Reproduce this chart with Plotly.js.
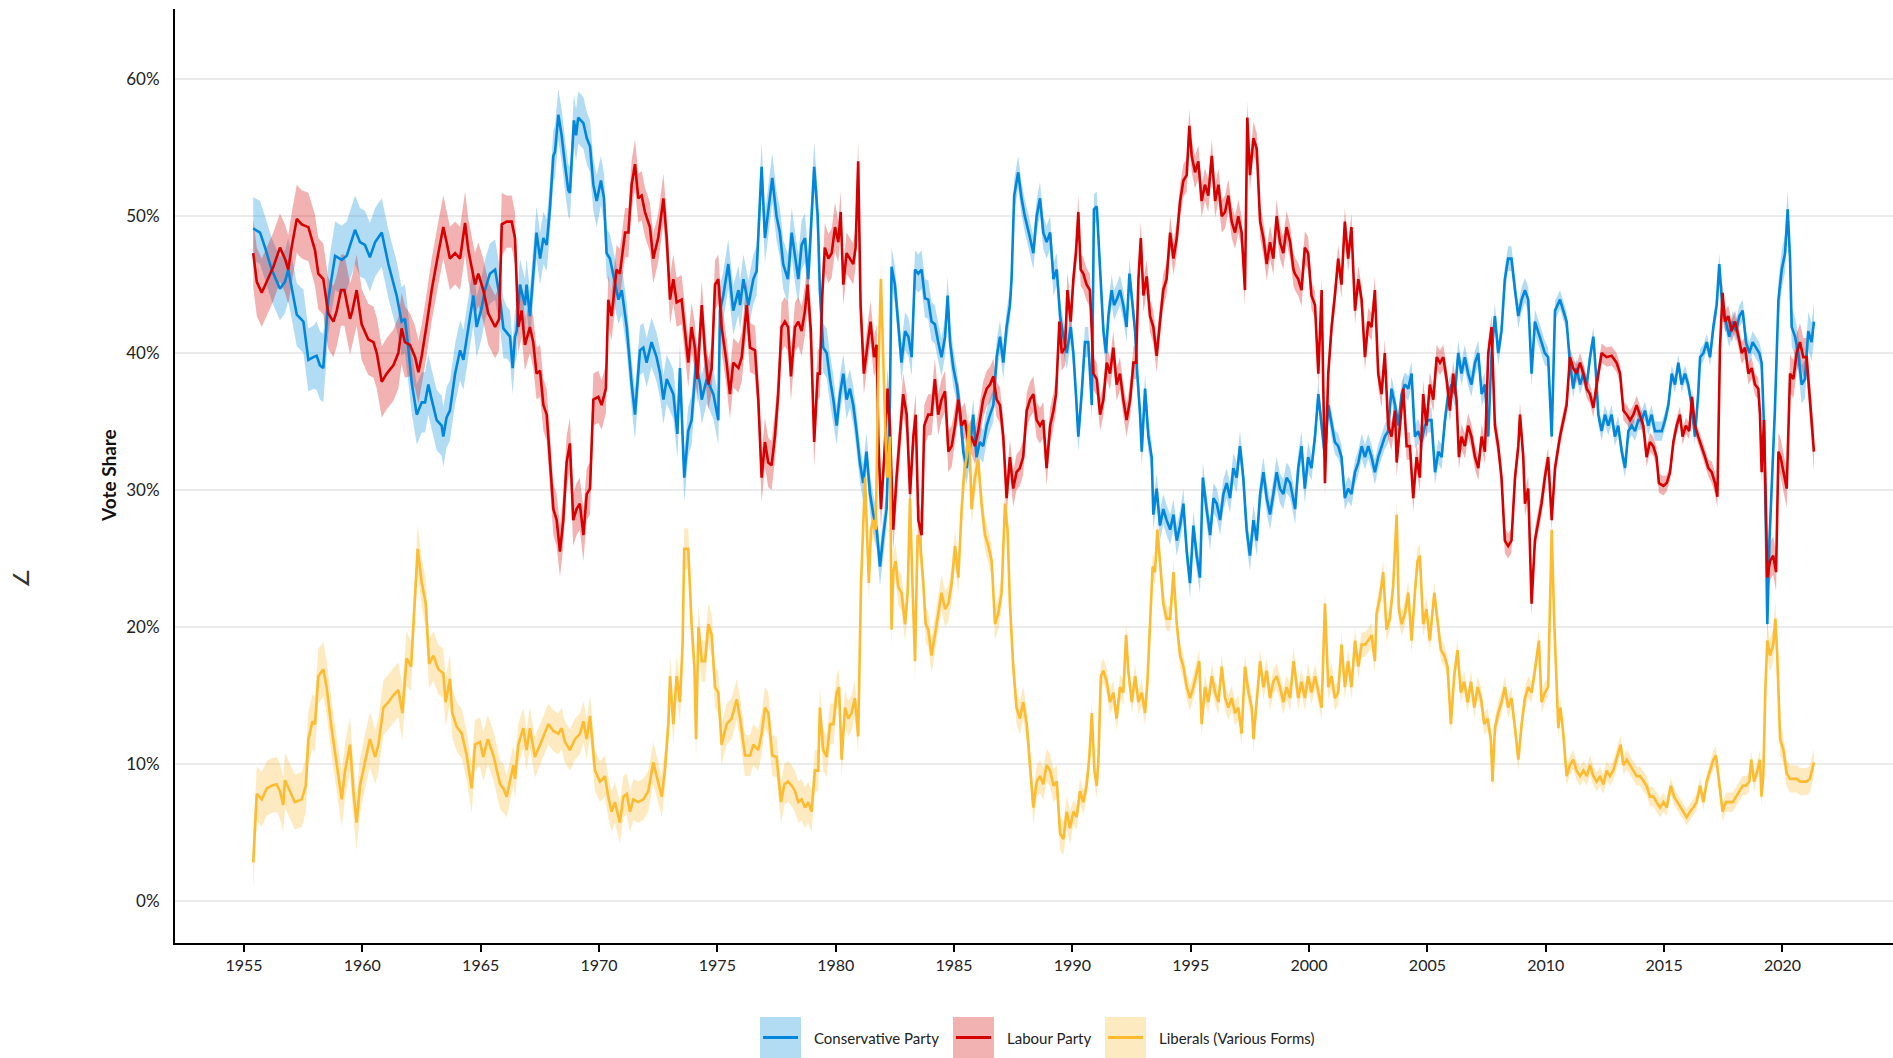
<!DOCTYPE html>
<html>
<head>
<meta charset="utf-8">
<script src="https://cdn.plot.ly/plotly-3.0.1.min.js"></script>
<style>html,body{margin:0;padding:0;background:#fff;overflow:hidden}#chart{width:1893px;height:1058px}</style>
</head>
<body>
<div id="chart"></div>
<script>
// ---------------- DATA ----------------
const partyNames = ['Conservative Party', 'Labour Party', 'Liberals (Various Forms)'];

const conYears = [
1955.39,1955.68,1955.89,1956.17,1956.52,1956.73,1956.87,1957.08,1957.23,1957.51,
1957.72,1957.93,1958.07,1958.21,1958.35,1958.56,1958.85,1959.13,1959.34,1959.69,
1959.90,1960.11,1960.32,1960.54,1960.82,1961.10,1961.45,1961.66,1961.80,1961.94,
1962.08,1962.30,1962.51,1962.65,1962.79,1962.93,1963.14,1963.35,1963.42,1963.56,
1963.70,1963.92,1964.13,1964.27,1964.48,1964.69,1964.83,1965.04,1965.18,1965.39,
1965.61,
1965.82,1965.96,1966.10,1966.24,1966.35,1966.45,1966.52,1966.66,1966.87,1966.94,
1967.08,1967.22,1967.36,1967.51,1967.65,1967.79,1967.93,1968.07,1968.14,1968.28,
1968.42,1968.56,1968.70,1968.77,1968.94,1969.03,1969.12,1969.34,1969.48,1969.62,
1969.76,1969.90,1970.08,1970.21,1970.32,1970.46,1970.82,1970.96,1971.17,1971.38,
1971.52,1971.73,1971.87,1972.01,1972.22,1972.43,1972.58,1972.72,1972.86,1973.14,
1973.31,1973.42,1973.60,1973.77,1973.91,1974.10,1974.27,1974.34,1974.55,1974.83,
1975.04,1975.11,1975.25,1975.46,1975.67,1975.89,1975.96,1976.10,1976.31,1976.52,
1976.66,1976.80,1976.87,1977.01,
1977.15,1977.32,1977.50,1977.64,1977.78,1977.98,1978.14,1978.28,1978.42,1978.56,
1978.70,1978.84,1978.98,1979.09,1979.24,1979.33,1979.47,1979.62,1979.76,1979.90,
1980.04,1980.18,1980.32,1980.46,1980.60,1980.74,1980.88,1981.02,1981.16,1981.30,
1981.45,1981.59,1981.73,1981.87,1982.01,1982.15,1982.29,1982.36,1982.50,1982.64,
1982.78,1982.93,1983.07,1983.21,1983.35,1983.49,1983.63,1983.77,1983.91,1984.05,
1984.19,1984.33,1984.47,1984.62,1984.73,1984.83,1984.97,1985.11,1985.25,1985.39,
1985.53,1985.67,1985.81,1985.95,1986.09,1986.23,1986.38,1986.52,1986.66,1986.80,
1986.94,1987.08,1987.22,1987.36,1987.43,1987.54,1987.71,1987.85,1987.99,1988.21,
1988.35,1988.49,1988.63,1988.77,1988.91,1989.06,1989.20,1989.34,1989.48,1989.62,
1989.76,1989.93,1990.04,1990.15,1990.25,1990.39,1990.53,1990.67,1990.82,1990.91,
1991.03,1991.10,1991.20,1991.31,1991.42,1991.52,1991.66,1991.76,1991.87,1992.01,
1992.15,1992.29,1992.41,1992.51,1992.65,1992.74,1992.86,1992.93,1993.07,1993.21,
1993.35,1993.42,1993.56,1993.70,1993.84,1993.98,1994.13,1994.27,1994.41,1994.55,
1994.69,1994.83,1994.97,1995.11,1995.25,1995.39,1995.51,1995.67,1995.82,1995.96,
1996.10,1996.24,1996.38,1996.52,1996.66,1996.80,1996.94,1997.08,1997.22,1997.36,
1997.50,1997.65,1997.79,1997.93,1998.07,1998.21,1998.35,1998.49,1998.63,1998.77,
1998.91,1999.05,1999.20,1999.41,
1999.54,1999.68,1999.82,1999.96,2000.10,2000.25,2000.39,2000.53,2000.67,2000.81,
2000.95,2001.09,2001.23,2001.37,2001.51,2001.65,2001.79,2001.94,2002.08,2002.22,
2002.36,2002.50,2002.64,2002.78,2002.92,2003.06,2003.20,2003.34,2003.48,2003.63,
2003.77,2003.91,2004.05,2004.19,2004.33,2004.47,2004.61,2004.75,2004.89,2005.03,
2005.17,2005.32,2005.46,2005.60,2005.74,2005.88,2006.02,2006.16,2006.30,2006.44,
2006.58,2006.72,2006.86,2007.01,2007.15,2007.29,2007.43,2007.57,2007.71,2007.85,
2007.99,2008.13,2008.27,2008.41,2008.55,2008.70,2008.84,2008.98,2009.12,2009.26,
2009.40,2009.54,2009.68,2009.82,2009.96,2010.10,2010.25,2010.39,2010.60,
2010.74,2010.88,2011.02,2011.16,2011.30,2011.45,2011.59,2011.73,2011.87,2012.01,
2012.12,2012.22,2012.36,2012.50,2012.64,2012.78,2012.92,2013.06,2013.21,2013.35,
2013.49,2013.63,2013.77,2013.91,2014.05,2014.19,2014.33,2014.47,2014.61,2014.75,
2014.90,2015.04,2015.18,2015.32,2015.46,2015.60,2015.74,2015.88,2016.02,2016.16,
2016.30,2016.44,2016.52,2016.66,2016.80,2016.94,2017.08,2017.22,2017.33,2017.47,
2017.61,2017.75,2017.90,2018.04,2018.18,2018.32,2018.46,2018.60,2018.74,2018.88,
2019.02,2019.12,2019.22,2019.30,2019.36,2019.45,2019.54,2019.68,2019.83,2019.97,
2020.11,2020.22,2020.32,2020.39,2020.53,2020.67,2020.81,2020.95,2021.09,2021.23,
2021.33];
const conShare = [
49.1,48.8,47.7,46.1,44.7,45.2,46.1,44.2,42.8,42.3,
39.5,39.7,39.8,39.1,38.9,43.9,47.1,46.8,47.1,49.0,
48.1,47.9,47.0,48.1,48.8,46.5,44.2,42.3,42.5,40.4,
37.9,35.5,36.4,36.4,37.7,36.6,35.1,34.7,33.9,35.3,
35.8,38.5,40.2,39.5,41.9,44.2,41.9,43.3,44.6,45.8,
46.1,
43.9,41.8,41.5,41.2,38.9,41.2,41.6,45.0,43.5,45.0,
42.7,45.8,48.8,46.9,48.4,47.9,50.7,54.4,54.7,57.4,
55.9,53.8,51.9,51.7,57.0,55.9,57.2,56.8,55.7,55.1,
52.3,51.1,52.6,51.3,47.3,46.9,43.9,44.6,41.9,37.7,
35.5,40.2,40.4,39.3,40.8,39.7,38.5,36.6,38.1,37.0,
34.1,38.9,30.9,34.3,35.1,39.3,37.7,36.6,38.1,37.0,
35.1,43.1,44.2,46.5,43.1,44.6,43.5,45.4,43.5,45.4,
46.0,51.1,53.6,48.4,
50.3,52.8,50.0,48.8,46.5,45.4,48.8,46.9,45.4,47.9,
48.4,45.4,49.6,53.6,50.0,44.6,40.4,40.0,38.1,36.6,
34.7,37.0,38.5,36.6,37.4,36.2,34.3,32.0,30.5,32.8,
29.7,28.2,27.1,24.4,26.7,28.6,36.6,46.3,45.0,42.3,
39.3,41.6,41.2,39.7,46.1,45.8,46.1,44.0,43.9,42.3,
42.1,40.8,39.7,41.2,44.2,40.8,38.9,37.7,35.8,32.8,
31.6,33.2,35.5,32.4,33.5,33.2,34.7,35.5,36.2,39.7,
41.2,39.3,41.9,43.5,45.4,51.5,53.2,51.3,50.0,48.4,
47.3,50.0,51.3,48.8,48.1,48.8,45.4,46.1,42.7,41.2,
40.0,41.9,40.0,37.0,33.9,37.0,40.8,40.8,36.2,50.5,
50.7,48.4,45.0,41.6,40.0,42.7,44.6,43.5,43.9,44.6,
43.5,41.9,45.8,44.2,41.6,38.5,35.5,32.8,37.4,33.9,
32.4,28.2,30.1,27.4,28.6,27.8,27.1,28.2,26.3,27.4,
29.0,25.5,23.2,27.4,25.2,23.6,30.9,28.6,26.7,29.4,
29.0,27.8,29.7,30.5,29.4,31.6,30.9,33.2,30.9,27.1,
25.2,27.8,26.3,29.7,31.3,29.4,28.2,29.7,31.3,30.1,
29.7,30.9,30.5,28.6,
31.6,33.2,30.1,32.4,31.6,33.9,37.0,34.7,32.4,36.2,
34.7,33.5,33.2,32.4,29.4,30.1,29.7,31.3,32.0,33.2,
32.4,33.2,32.4,31.3,32.4,33.2,33.9,34.3,37.4,36.2,
34.7,37.0,37.7,37.4,38.5,33.9,34.3,33.5,34.7,35.1,
35.1,31.3,32.8,32.4,35.1,37.0,37.7,37.0,40.0,38.5,
39.7,38.5,37.7,39.3,40.0,37.0,37.7,33.9,40.0,42.7,
40.0,41.6,45.4,46.9,46.9,44.6,42.7,43.9,44.6,43.9,
38.5,42.3,41.6,40.8,40.0,39.7,33.9,43.1,43.9,
43.1,42.3,39.3,37.4,38.9,37.7,38.5,37.7,39.7,41.2,
38.5,35.5,34.3,35.5,34.7,35.5,33.9,34.7,32.8,31.6,
34.3,34.7,34.3,35.1,35.1,35.8,34.7,35.5,34.3,34.3,
34.3,35.1,36.2,38.5,37.7,39.3,37.7,38.5,37.7,36.2,
33.9,37.0,39.7,40.0,40.8,39.7,41.9,43.5,46.5,43.1,
42.3,41.2,42.3,41.6,42.7,43.1,40.8,40.0,40.8,40.4,
40.0,39.3,34.7,27.1,20.2,26.3,30.1,35.8,43.9,46.1,
47.3,50.5,46.9,41.9,41.2,40.0,37.7,38.1,41.6,40.8,
42.3];

const labYears = [
1955.39,1955.54,1955.75,1955.96,1956.24,1956.52,1956.73,1956.87,1957.01,1957.23,
1957.44,1957.72,1958.00,1958.14,1958.35,1958.56,1958.78,1958.92,1959.10,1959.24,
1959.48,1959.58,1959.76,1959.97,1960.25,1960.47,1960.61,1960.82,1961.03,1961.31,
1961.52,1961.66,1961.80,1962.01,1962.23,1962.37,1962.51,1962.72,1962.93,1963.21,
1963.42,1963.56,1963.70,1963.92,1964.13,1964.34,1964.48,1964.76,1964.90,1965.11,
1965.32,1965.61,1965.78,
1965.89,1966.10,1966.31,1966.45,1966.59,1966.73,1966.87,1967.08,1967.22,1967.36,
1967.51,1967.65,1967.79,1967.93,1968.07,1968.21,1968.35,1968.49,1968.63,1968.77,
1968.91,1969.05,1969.19,1969.34,1969.48,1969.62,1969.76,1969.97,1970.11,1970.29,
1970.39,1970.53,1970.74,1970.88,1971.10,1971.24,1971.38,1971.52,1971.66,1971.80,
1971.94,1972.15,1972.29,1972.50,1972.72,1972.86,1973.00,1973.14,1973.28,1973.49,
1973.63,1973.77,1973.91,1974.05,1974.15,1974.34,1974.48,1974.62,1974.76,1974.90,
1975.04,1975.18,1975.39,1975.53,1975.67,1975.89,1976.03,1976.24,1976.38,1976.59,
1976.73,1976.80,1976.87,1977.01,
1977.15,1977.29,1977.43,1977.57,1977.71,1977.85,1977.99,1978.11,1978.28,1978.42,
1978.56,1978.70,1978.81,1978.95,1979.09,1979.24,1979.33,1979.43,1979.54,1979.69,
1979.83,1979.97,1980.11,1980.21,1980.32,1980.46,1980.60,1980.74,1980.84,1980.95,
1981.05,1981.19,1981.33,1981.47,1981.62,1981.73,1981.80,1981.91,1982.05,1982.19,
1982.29,1982.43,1982.57,1982.71,1982.85,1983.00,1983.14,1983.28,1983.38,1983.49,
1983.63,1983.74,1983.91,1984.05,1984.19,1984.33,1984.47,1984.62,1984.76,1984.90,
1985.04,1985.18,1985.32,1985.46,1985.60,1985.74,1985.88,1986.02,1986.23,1986.38,
1986.52,1986.66,1986.80,1986.94,1987.08,1987.22,1987.36,1987.50,1987.64,1987.78,
1987.92,1988.07,1988.21,
1988.35,1988.49,1988.63,1988.77,1988.91,1989.06,1989.20,1989.31,1989.45,1989.55,
1989.69,1989.79,1989.93,1990.04,1990.15,1990.25,1990.35,1990.46,1990.60,1990.74,
1990.82,1990.89,1991.03,1991.17,1991.31,1991.45,1991.59,1991.73,1991.87,1992.01,
1992.15,1992.29,1992.44,1992.58,1992.69,1992.79,1992.89,1993.00,1993.14,1993.28,
1993.42,1993.56,1993.70,1993.84,1993.98,1994.13,1994.27,1994.41,1994.55,1994.69,
1994.83,1994.94,1995.04,1995.18,1995.32,1995.46,1995.60,1995.74,1995.89,1996.03,
1996.17,1996.31,1996.45,1996.59,1996.73,1996.87,1997.01,1997.15,1997.29,1997.39,
1997.50,1997.65,1997.79,1997.93,1998.07,1998.21,1998.35,1998.49,1998.63,1998.77,
1998.91,1999.05,1999.20,1999.34,
1999.40,1999.54,1999.68,1999.82,1999.96,2000.10,2000.25,2000.39,2000.53,2000.67,
2000.81,2000.95,2001.09,2001.23,2001.37,2001.51,2001.65,2001.79,2001.94,2002.08,
2002.22,2002.36,2002.50,2002.64,2002.78,2002.92,2003.06,2003.20,2003.34,2003.48,
2003.63,2003.70,2003.84,2003.98,2004.12,2004.26,2004.40,2004.54,2004.68,2004.82,
2004.96,2005.10,2005.25,2005.39,2005.53,2005.67,2005.81,2005.95,2006.09,2006.23,
2006.33,2006.44,2006.58,2006.72,2006.86,2007.01,2007.15,2007.29,2007.43,2007.57,
2007.71,2007.85,2007.99,2008.13,2008.27,2008.41,2008.55,2008.70,2008.84,2008.91,
2009.05,2009.12,2009.26,2009.40,2009.54,2009.68,2009.82,2009.96,2010.10,2010.25,
2010.39,2010.60,
2010.74,2010.88,2011.02,2011.16,2011.30,2011.45,2011.59,2011.73,2011.87,2012.01,
2012.15,2012.36,2012.57,2012.78,2012.99,2013.14,2013.28,2013.42,2013.56,2013.70,
2013.84,2013.98,2014.12,2014.26,2014.40,2014.54,2014.68,2014.78,2014.97,2015.11,
2015.25,2015.39,2015.53,2015.67,2015.78,2015.92,2016.06,2016.18,2016.30,2016.44,
2016.59,2016.73,2016.87,2017.01,2017.15,2017.25,2017.36,2017.47,2017.57,2017.71,
2017.85,2018.00,2018.14,2018.28,2018.42,2018.56,2018.70,2018.84,2018.98,2019.05,
2019.12,2019.22,2019.30,2019.36,2019.47,2019.61,2019.73,2019.83,2019.92,2020.04,
2020.18,2020.32,2020.46,2020.60,2020.74,2020.88,2021.02,2021.16,2021.33];
const labShare = [
47.3,45.2,44.4,45.2,46.3,47.7,46.9,46.1,47.7,49.8,
49.4,49.2,47.5,45.8,45.4,42.9,42.3,43.1,44.6,44.6,
42.5,43.1,44.6,42.1,41.0,40.8,40.0,37.9,38.5,39.1,
40.0,41.8,40.8,40.6,39.7,38.6,39.8,42.1,44.6,47.3,
49.2,48.1,46.9,47.3,46.9,49.5,47.5,45.0,45.8,44.6,
42.9,41.9,42.5,
49.4,49.6,49.6,48.4,41.9,43.1,40.6,41.9,40.8,38.5,
38.7,36.2,35.5,32.4,28.6,27.8,25.5,27.8,32.0,33.4,
27.8,28.6,29.0,26.7,29.7,30.1,36.6,36.8,36.2,37.4,
43.9,42.7,46.1,45.8,48.8,48.8,52.3,53.8,51.3,51.5,
50.3,49.2,46.9,48.4,51.3,48.4,43.9,45.4,43.7,43.9,
41.6,39.3,41.9,40.4,38.1,43.5,40.0,37.7,38.9,45.0,
45.4,41.9,39.3,37.0,39.3,38.9,39.7,43.5,40.4,40.2,
36.6,33.9,30.9,33.5,
32.0,31.8,33.9,37.0,41.9,42.3,41.9,38.3,41.9,42.3,
41.6,43.1,45.0,41.6,33.5,38.5,38.5,44.2,47.7,46.9,
47.3,49.2,48.1,50.3,45.0,47.3,46.9,46.5,47.7,54.0,
43.5,38.5,40.4,42.3,39.7,40.6,33.9,28.6,32.4,37.4,
34.7,27.1,30.9,33.9,37.0,35.5,29.7,33.9,35.5,27.8,
26.7,34.7,35.5,35.5,38.1,35.5,36.6,37.2,32.8,33.2,
34.7,36.6,34.7,35.1,33.5,33.9,33.2,34.3,36.6,37.4,
37.7,38.3,36.6,36.2,33.9,29.4,32.4,30.1,31.3,31.6,
32.4,35.8,36.6,
37.0,35.1,34.7,35.1,31.6,34.7,35.8,37.0,42.3,40.0,
40.4,44.6,42.3,45.4,47.3,50.3,46.1,45.8,45.0,44.6,
41.6,38.5,38.1,35.5,36.6,39.3,38.5,40.4,37.7,38.5,
36.6,35.1,36.6,39.3,39.3,45.4,48.4,44.2,45.6,42.7,
41.9,39.8,42.3,44.6,45.4,48.8,46.9,48.4,51.1,52.6,
53.0,56.6,54.4,53.2,54.0,51.1,52.3,51.5,54.4,51.1,
52.3,50.0,50.3,51.5,49.6,48.8,50.0,48.8,44.6,57.2,
53.0,55.7,54.9,49.6,48.4,46.5,48.1,46.9,50.0,48.1,
47.3,49.2,48.1,46.1,
45.8,45.4,44.6,47.7,47.3,44.2,43.5,38.5,44.6,30.5,
38.5,41.9,44.2,46.9,45.0,49.6,46.9,49.2,43.1,45.4,
43.9,39.7,42.3,41.9,44.6,38.5,37.0,40.0,34.7,33.9,
35.8,32.0,34.7,37.4,33.2,33.2,29.4,32.4,30.9,37.0,
34.7,37.7,36.6,39.7,39.3,39.7,38.1,35.8,38.5,36.6,
32.4,33.9,33.2,34.7,33.9,32.4,31.6,33.9,32.8,40.0,
41.9,34.7,33.2,30.9,26.3,25.9,26.3,30.9,33.2,35.5,
32.4,29.0,30.1,21.7,26.3,27.8,29.0,30.9,32.4,27.8,
31.6,33.9,
35.1,36.2,39.7,38.9,38.5,39.3,38.5,37.4,37.0,36.0,
37.7,40.0,39.7,39.8,39.3,38.5,35.8,35.5,35.1,35.5,
36.2,35.5,34.7,32.4,33.5,33.2,32.4,30.5,30.3,30.5,
31.3,33.5,34.7,35.5,33.9,34.7,34.3,36.8,34.7,33.9,
33.2,32.4,31.6,31.3,30.5,29.5,40.4,44.4,42.3,42.7,
41.6,42.3,41.2,40.0,40.4,38.5,38.9,37.7,37.4,35.5,
31.3,35.1,28.6,23.6,24.8,25.2,24.0,32.8,32.4,31.3,
30.1,38.5,38.1,40.0,40.8,39.7,39.7,36.6,32.8];

const libYears = [
1955.39,1955.54,1955.75,1955.96,1956.17,1956.38,1956.52,1956.66,1956.73,1956.94,
1957.15,1957.44,1957.61,1957.72,1957.89,1958.00,1958.14,1958.35,1958.49,1958.70,
1958.92,1959.13,1959.27,1959.48,1959.62,1959.76,1959.90,1960.11,1960.32,1960.54,
1960.68,1960.89,1961.10,1961.31,1961.52,1961.69,1961.87,1962.06,1962.23,1962.34,
1962.51,1962.68,1962.82,1963.00,1963.21,1963.42,1963.52,1963.70,1963.80,1963.99,
1964.20,1964.41,1964.62,1964.76,1964.97,1965.11,1965.30,1965.54,
1965.82,1965.96,1966.10,1966.24,1966.38,1966.45,1966.59,1966.80,1966.94,1967.08,
1967.29,1967.51,1967.65,1967.86,1968.07,1968.28,1968.42,1968.56,1968.77,1968.98,
1969.20,1969.34,1969.48,1969.62,1969.83,1970.04,1970.25,1970.39,1970.53,1970.67,
1970.88,1971.03,1971.17,1971.31,1971.45,1971.66,1971.87,1972.08,1972.29,1972.43,
1972.65,1972.79,1972.93,1973.00,1973.14,1973.28,1973.42,1973.53,1973.60,1973.77,
1973.91,1974.03,1974.10,1974.20,1974.34,1974.48,1974.62,1974.76,1974.90,1975.04,
1975.18,1975.39,1975.60,1975.82,1975.96,1976.17,1976.38,1976.52,1976.73,1976.87,
1977.01,
1977.15,1977.32,1977.50,1977.69,1977.83,1977.99,1978.14,1978.28,1978.42,1978.56,
1978.70,1978.84,1978.98,1979.12,1979.26,1979.33,1979.47,1979.62,1979.76,1979.90,
1980.04,1980.14,1980.25,1980.39,1980.53,1980.67,1980.81,1980.95,1981.07,1981.16,
1981.24,1981.31,1981.40,1981.49,1981.59,1981.69,1981.80,1981.91,1982.01,1982.11,
1982.19,1982.29,1982.36,1982.43,1982.53,1982.64,1982.78,1982.93,1983.04,1983.14,
1983.24,1983.35,1983.46,1983.56,1983.70,1983.80,1983.91,1984.05,1984.19,1984.33,
1984.47,1984.62,1984.76,1984.90,1985.04,1985.18,1985.32,1985.43,1985.53,1985.63,
1985.74,1985.88,1986.02,1986.16,1986.31,1986.45,1986.59,1986.73,1986.87,1987.01,
1987.15,1987.26,1987.36,1987.50,1987.64,1987.78,1987.92,1988.07,1988.21,
1988.35,1988.49,1988.63,1988.77,1988.91,1989.06,1989.20,1989.34,1989.48,1989.62,
1989.76,1989.90,1990.04,1990.18,1990.32,1990.46,1990.60,1990.72,1990.82,1990.93,
1991.03,1991.10,1991.20,1991.31,1991.45,1991.59,1991.73,1991.87,1992.01,1992.15,
1992.27,1992.36,1992.51,1992.65,1992.79,1992.93,1993.07,1993.17,1993.28,1993.39,
1993.49,1993.59,1993.70,1993.84,1993.98,1994.13,1994.27,1994.41,1994.55,1994.69,
1994.83,1994.97,1995.11,1995.25,1995.36,1995.46,1995.60,1995.74,1995.89,1996.03,
1996.17,1996.31,1996.45,1996.59,1996.73,1996.87,1997.01,1997.15,1997.29,1997.44,
1997.58,1997.65,1997.79,1997.93,1998.07,1998.21,1998.35,1998.49,1998.63,1998.77,
1998.91,1999.05,1999.20,1999.34,
1999.40,1999.54,1999.68,1999.82,1999.96,2000.10,2000.25,2000.39,2000.53,2000.67,
2000.81,2000.95,2001.09,2001.23,2001.37,2001.51,2001.65,2001.79,2001.94,2002.08,
2002.22,2002.36,2002.50,2002.64,2002.78,2002.85,2002.99,2003.13,2003.27,2003.41,
2003.55,2003.70,2003.79,2003.91,2004.05,2004.19,2004.33,2004.47,2004.58,2004.68,
2004.82,2004.96,2005.10,2005.29,2005.43,2005.57,2005.71,2005.85,2005.99,2006.13,
2006.27,2006.41,2006.55,2006.70,2006.84,2006.98,2007.12,2007.26,2007.40,2007.54,
2007.68,2007.75,2007.85,2007.99,2008.13,2008.27,2008.41,2008.55,2008.70,2008.84,
2008.98,2009.12,2009.26,2009.40,2009.54,2009.71,2009.82,2009.96,2010.10,2010.25,
2010.36,2010.53,
2010.62,2010.74,2010.88,2011.02,2011.16,2011.30,2011.45,2011.59,2011.73,2011.87,
2012.01,2012.15,2012.29,2012.43,2012.57,2012.71,2012.85,2012.99,2013.16,2013.28,
2013.42,2013.56,2013.70,2013.84,2013.98,2014.12,2014.26,2014.40,2014.54,2014.68,
2014.83,2014.97,2015.11,2015.28,2015.42,2015.56,2015.70,2015.84,2015.95,2016.09,
2016.23,2016.37,2016.52,2016.66,2016.80,2016.94,2017.08,2017.19,2017.33,2017.47,
2017.61,2017.75,2017.90,2018.04,2018.18,2018.32,2018.46,2018.60,2018.68,2018.80,
2018.94,2019.05,2019.11,2019.19,2019.28,2019.36,2019.47,2019.61,2019.70,2019.78,
2019.90,2020.04,2020.18,2020.32,2020.46,2020.60,2020.74,2020.88,2021.02,2021.16,
2021.33];
const libShare = [
2.8,7.8,7.4,8.2,8.4,8.5,8.0,7.0,8.8,8.0,
7.2,7.4,8.4,11.8,13.1,12.9,16.4,16.9,15.6,12.6,
9.9,7.4,9.5,11.4,8.0,5.7,8.4,10.1,11.8,10.5,
11.4,14.1,14.5,15.0,15.4,13.7,17.7,17.1,22.9,25.7,
23.2,21.7,17.3,17.9,16.9,16.6,14.5,16.2,13.7,12.7,
12.2,10.6,8.2,11.4,11.6,10.5,11.8,10.6,
8.5,8.2,7.6,8.7,9.9,8.9,11.4,12.6,11.0,12.6,
10.5,11.4,12.0,12.9,12.4,12.2,12.6,11.6,11.0,11.8,
12.2,13.1,11.8,13.5,9.5,8.7,9.1,7.6,6.5,7.2,
5.7,7.6,7.8,6.5,7.4,7.2,7.4,8.0,10.1,9.1,
7.6,9.7,12.9,16.4,12.9,16.4,14.5,18.7,25.7,25.7,
20.2,17.1,11.8,20.0,17.5,17.5,20.2,19.4,15.6,15.2,
11.4,12.9,13.3,14.7,13.3,10.6,10.6,11.4,11.0,12.2,
14.1,
13.7,10.6,10.5,7.2,8.5,8.7,8.4,8.0,7.2,7.4,
6.8,7.2,6.5,9.5,9.5,14.1,11.0,10.5,12.9,12.9,
15.2,15.6,10.3,14.1,13.3,13.7,14.8,12.0,23.2,27.8,
30.9,27.4,23.2,27.1,27.8,27.1,38.5,45.4,39.3,33.5,
30.9,33.9,19.8,24.0,24.8,22.9,22.5,20.2,22.5,29.4,
23.2,17.5,26.7,26.3,23.2,20.2,19.8,17.9,19.4,21.0,
22.5,21.3,21.7,23.2,25.9,23.6,28.6,31.3,32.4,34.7,
28.6,30.9,32.2,29.0,26.7,25.9,24.8,20.2,21.0,22.5,
29.0,27.1,21.7,17.1,14.1,13.3,14.5,12.9,9.7,
6.8,8.7,9.1,8.5,9.9,9.5,8.4,8.7,4.9,4.5,
6.5,5.3,6.5,6.1,8.0,7.2,8.4,10.6,13.7,9.5,
8.4,10.3,16.4,16.8,16.0,14.5,15.2,13.3,15.6,15.2,
19.4,16.8,14.5,16.4,14.5,15.2,13.7,16.0,20.6,24.4,
24.0,27.1,24.8,21.7,20.6,20.6,24.0,20.2,17.9,17.1,
15.6,14.8,15.6,16.6,17.5,12.9,15.6,14.5,16.4,15.2,
14.5,17.1,14.8,14.1,14.8,13.7,14.1,12.2,17.1,15.2,
14.1,11.8,14.5,17.5,15.6,16.8,14.8,16.0,16.4,15.6,
14.5,15.6,14.8,17.5,
16.8,14.8,16.0,14.8,16.4,15.2,16.4,15.2,14.1,21.7,
15.6,16.4,14.8,15.2,18.7,15.6,17.5,15.6,19.0,17.1,
18.7,18.7,19.0,19.4,17.5,21.0,22.1,24.0,19.8,20.6,
22.9,28.2,21.3,20.2,21.0,22.5,19.0,22.5,24.8,25.2,
20.2,21.3,19.0,22.5,20.2,18.3,17.9,17.1,12.9,16.4,
18.3,15.2,16.0,14.5,16.0,14.1,15.6,14.8,12.9,13.3,
11.8,8.7,12.6,13.7,14.5,15.6,14.1,14.8,12.6,10.3,
12.9,14.8,15.6,15.2,16.8,19.0,14.5,15.2,15.6,27.1,
20.2,12.6,
14.1,12.2,9.1,9.9,10.3,9.5,9.1,9.5,9.1,9.9,
9.1,8.7,9.1,8.5,9.5,9.1,9.5,10.3,11.4,9.9,
10.3,9.9,9.5,9.1,9.1,8.7,8.4,7.6,7.6,7.2,
6.8,7.2,6.8,8.4,7.6,7.2,6.8,6.5,6.1,6.5,
6.8,7.2,8.4,7.2,8.7,9.5,10.3,10.6,8.7,6.5,
7.2,7.2,7.2,7.6,8.0,8.4,8.4,8.7,10.3,8.7,
9.5,10.3,7.6,9.1,15.6,19.0,17.9,18.7,20.6,17.9,
11.8,11.0,9.3,8.9,8.9,8.9,8.7,8.7,8.7,8.9,
10.1];

// uncertainty half-widths (percentage points) by period
const bandEraStart = [1955, 1958, 1962, 1966, 1970, 1975, 1980, 1985, 1990, 1995, 2000, 2005, 2010, 2015, 2017, 2019.3, 2020];
const conBand =      [2.3,  2.5,  2.2,  1.9,  1.8,  1.8,  1.4,  1.2,  1.1,  1.1,  0.9,  0.9,  0.7,  0.6,  0.8,  1.4,    1.4];
const labBand =      [2.5,  2.6,  2.3,  1.9,  1.8,  1.8,  1.5,  1.3,  1.2,  1.2,  1.0,  0.9,  0.7,  0.6,  0.8,  1.4,    1.4];
const libBand =      [2.0,  2.0,  1.8,  1.5,  1.5,  1.5,  1.3,  1.2,  0.9,  0.9,  0.9,  0.8,  0.7,  0.6,  0.7,  1.2,    1.0];

const xTickYears = [1955,1960,1965,1970,1975,1980,1985,1990,1995,2000,2005,2010,2015,2020];
const yTickValues = [0,10,20,30,40,50,60];
const yTickLabels = ['0%','10%','20%','30%','40%','50%','60%'];

// ---------------- STYLE ----------------
const lineColors = ['#0087dc', '#d70000', '#fdbb30'];
const bandColors = ['rgba(0,135,220,0.3)', 'rgba(215,0,0,0.3)', 'rgba(253,187,48,0.3)'];
const FONT = 'Lato, "Open Sans", sans-serif';

function eraWidth(bands, yr) {
  let w = bands[0];
  for (let i = 0; i < bandEraStart.length; i++) if (yr >= bandEraStart[i]) w = bands[i];
  return w;
}
function ribbon(xs, ys, bands, fill) {
  const n = Math.min(xs.length, ys.length);
  const up = [], lo = [], xx = xs.slice(0, n);
  for (let i = 0; i < n; i++) { const w = eraWidth(bands, xx[i]); up.push(ys[i] + w); lo.push(ys[i] - w); }
  return { type: 'scatter', mode: 'lines', x: xx.concat(xx.slice().reverse()), y: up.concat(lo.reverse()),
           fill: 'toself', fillcolor: fill, line: { width: 0 }, hoverinfo: 'skip', showlegend: false };
}
function line(xs, ys, color, name) {
  const n = Math.min(xs.length, ys.length);
  return { type: 'scatter', mode: 'lines', name: name, x: xs.slice(0, n), y: ys.slice(0, n),
           line: { color: color, width: 2.6 }, showlegend: false };
}

const series = [[conYears, conShare, conBand], [labYears, labShare, labBand], [libYears, libShare, libBand]];
const traces = [];
series.forEach((s, i) => traces.push(ribbon(s[0], s[1], s[2], bandColors[i])));
series.forEach((s, i) => traces.push(line(s[0], s[1], lineColors[i], partyNames[i])));

// manual legend (paper coordinates)
const W = 1718, H = 934, L = 175, B = 943;
const px = v => (v - L) / W, py = v => (B - v) / H;
const legendBoxX = [760, 953, 1105];
const shapes = [], annotations = [];
legendBoxX.forEach((bx, i) => {
  shapes.push({ type: 'rect', xref: 'paper', yref: 'paper', x0: px(bx), x1: px(bx + 41), y0: py(1058), y1: py(1017),
                fillcolor: bandColors[i], line: { width: 0 }, layer: 'above' });
  shapes.push({ type: 'line', xref: 'paper', yref: 'paper', x0: px(bx + 3), x1: px(bx + 38), y0: py(1037.5), y1: py(1037.5),
                line: { color: lineColors[i], width: 3 }, layer: 'above' });
  annotations.push({ xref: 'paper', yref: 'paper', x: px(bx + 52), y: py(1037.5), xanchor: 'left', yanchor: 'middle',
                     text: partyNames[i], showarrow: false, font: { family: FONT, size: 15, color: '#222' } });
});
annotations.push({ xref: 'paper', yref: 'paper', x: px(108), y: 0.5, xanchor: 'center', yanchor: 'middle', textangle: -90,
                   text: '<b>Vote Share</b>', showarrow: false, font: { family: FONT, size: 19, color: '#111' } });
annotations.push({ xref: 'paper', yref: 'paper', x: px(22), y: py(578), xanchor: 'center', yanchor: 'middle', textangle: -90,
                   text: '∠', showarrow: false, font: { family: 'DejaVu Sans, sans-serif', size: 22, color: '#333' } });

const layout = {
  width: 1893, height: 1058,
  margin: { l: 175, r: 0, t: 9, b: 115, pad: 0 },
  paper_bgcolor: '#fff', plot_bgcolor: '#fff',
  font: { family: FONT, size: 15, color: '#222' },
  showlegend: false,
  xaxis: {
    range: [1952.085, 2024.67], tickmode: 'array', tickvals: xTickYears, ticktext: xTickYears.map(String),
    ticks: 'outside', ticklen: 7, tickwidth: 2, tickcolor: '#000',
    showline: true, linecolor: '#000', linewidth: 2, showgrid: false, zeroline: false,
    tickfont: { family: FONT, size: 16, color: '#222' }
  },
  yaxis: {
    range: [-3.09, 65.13], tickmode: 'array', tickvals: yTickValues, ticktext: yTickLabels,
    ticks: 'outside', ticklen: 10, tickcolor: 'rgba(0,0,0,0)',
    showline: true, linecolor: '#000', linewidth: 2, showgrid: true, gridcolor: '#ebebeb', gridwidth: 2, zeroline: false,
    tickfont: { family: FONT, size: 17, color: '#222' }
  },
  shapes: shapes, annotations: annotations
};

Plotly.newPlot('chart', traces, layout, { displayModeBar: false, staticPlot: true });
</script>
</body>
</html>
